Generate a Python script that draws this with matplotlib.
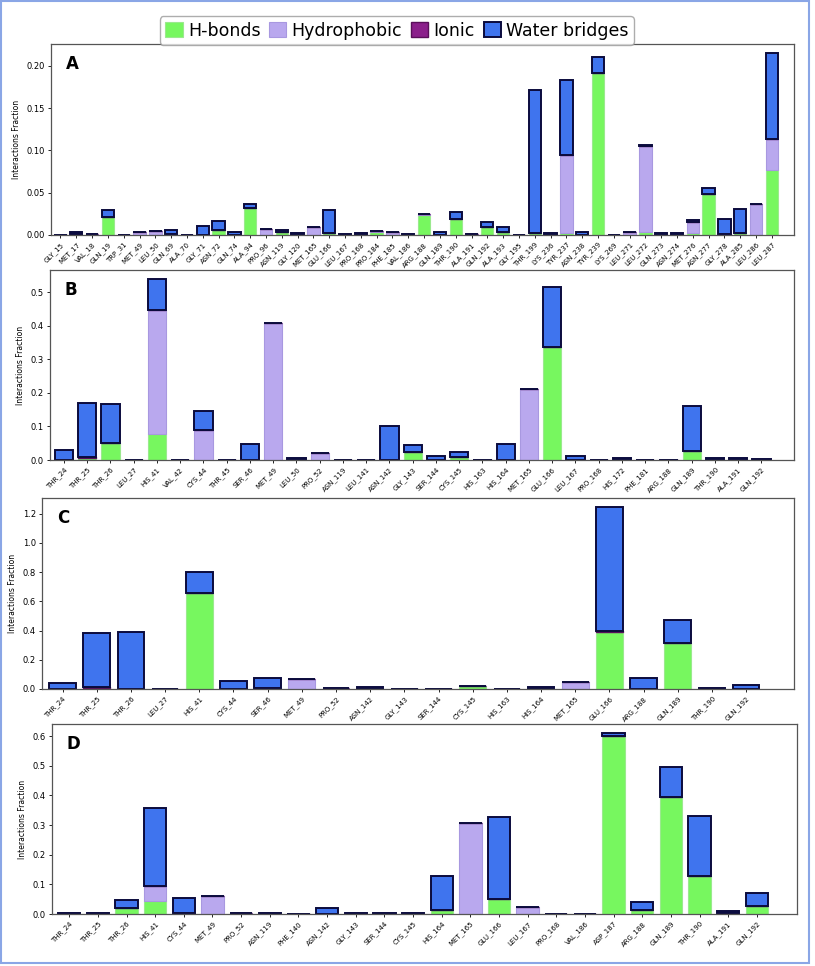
import numpy as np
import matplotlib
matplotlib.use("Agg")
import matplotlib.pyplot as plt
from matplotlib.patches import Patch, Rectangle

# ---- panel A ----
a_labels = ["GLY_15", "MET_17", "VAL_18", "GLN_19", "TRP_31", "MET_49", "LEU_50", "GLN_69",
            "ALA_70", "GLY_71", "ASN_72", "GLN_74", "ALA_94", "PRO_96", "ASN_119", "GLY_120",
            "MET_165", "GLU_166", "LEU_167", "PRO_168", "PRO_184", "PHE_185", "VAL_186",
            "ARG_188", "GLN_189", "THR_190", "ALA_191", "GLN_192", "ALA_193", "GLY_195",
            "THR_199", "LYS_236", "TYR_237", "ASN_238", "TYR_239", "LYS_269", "LEU_271",
            "LEU_272", "GLN_273", "ASN_274", "MET_276", "ASN_277", "GLY_278", "ALA_285",
            "LEU_286", "LEU_287"]
a_hbond = [0, 0.001, 0, 0.021, 0, 0, 0, 0.001, 0, 0, 0.006, 0, 0.032, 0, 0.003, 0,
           0, 0.002, 0, 0, 0.004, 0, 0, 0.024, 0, 0.019, 0, 0.010, 0.004, 0,
           0.002, 0, 0.002, 0, 0.192, 0, 0, 0.003, 0, 0, 0.002, 0.048, 0.001, 0.002,
           0, 0.077]
a_hydro = [0, 0, 0.001, 0, 0.0005, 0.003, 0.005, 0, 0, 0, 0, 0, 0, 0.007, 0, 0,
           0.009, 0, 0, 0, 0.001, 0.003, 0, 0.001, 0, 0, 0.001, 0, 0, 0,
           0, 0, 0.092, 0, 0, 0, 0.003, 0.102, 0, 0, 0.013, 0, 0, 0,
           0.0365, 0.037]
a_ionic = [0] * 46
a_water = [0.0005, 0.003, 0, 0.009, 0, 0, 0, 0.005, 0.0005, 0.011, 0.011, 0.003, 0.005, 0, 0.003, 0.002,
           0, 0.027, 0.001, 0.002, 0, 0, 0.001, 0, 0.003, 0.008, 0, 0.005, 0.005, 0.0005,
           0.169, 0.002, 0.089, 0.003, 0.018, 0.0005, 0, 0.001, 0.002, 0.002, 0.003, 0.007, 0.018, 0.029,
           0, 0.101]

# ---- panel B ----
b_labels = ["THR_24", "THR_25", "THR_26", "LEU_27", "HIS_41", "VAL_42", "CYS_44", "THR_45",
            "SER_46", "MET_49", "LEU_50", "PRO_52", "ASN_119", "LEU_141", "ASN_142", "GLY_143",
            "SER_144", "CYS_145", "HIS_163", "HIS_164", "MET_165", "GLU_166", "LEU_167",
            "PRO_168", "HIS_172", "PHE_181", "ARG_188", "GLN_189", "THR_190", "ALA_191", "GLN_192"]
b_hbond = [0, 0.007, 0.051, 0, 0.078, 0, 0, 0, 0, 0, 0, 0, 0, 0, 0, 0.024,
           0, 0.008, 0, 0, 0, 0.336, 0, 0, 0, 0, 0, 0.026, 0, 0, 0]
b_hydro = [0, 0, 0, 0, 0.369, 0.001, 0.090, 0, 0, 0.408, 0, 0.020, 0, 0, 0, 0,
           0, 0, 0, 0, 0.213, 0, 0, 0, 0, 0, 0, 0, 0, 0, 0]
b_ionic = [0, 0.002, 0, 0, 0, 0, 0, 0, 0, 0, 0, 0, 0, 0, 0, 0,
           0, 0, 0, 0, 0, 0, 0, 0, 0, 0, 0, 0, 0, 0, 0]
b_water = [0.030, 0.160, 0.116, 0, 0.093, 0, 0.057, 0, 0.048, 0, 0.005, 0, 0.001, 0.001, 0.101, 0.022,
           0.013, 0.015, 0, 0.048, 0, 0.180, 0.013, 0, 0.006, 0, 0.001, 0.136, 0.007, 0.007, 0.003]

# ---- panel C ----
c_labels = ["THR_24", "THR_25", "THR_26", "LEU_27", "HIS_41", "CYS_44", "SER_46", "MET_49",
            "PRO_52", "ASN_142", "GLY_143", "SER_144", "CYS_145", "HIS_163", "HIS_164",
            "MET_165", "GLU_166", "ARG_188", "GLN_189", "THR_190", "GLN_192"]
c_hbond = [0, 0.010, 0, 0, 0.655, 0.003, 0.005, 0, 0, 0, 0, 0, 0.018, 0, 0,
           0, 0.390, 0, 0.313, 0, 0]
c_hydro = [0, 0, 0, 0, 0, 0, 0, 0.071, 0.010, 0, 0, 0, 0.005, 0, 0,
           0.048, 0, 0, 0, 0, 0]
c_ionic = [0, 0.004, 0, 0, 0, 0, 0, 0, 0, 0, 0, 0, 0, 0, 0,
           0, 0.005, 0, 0, 0, 0]
c_water = [0.040, 0.370, 0.389, 0, 0.143, 0.052, 0.073, 0, 0, 0.012, 0.003, 0.001, 0, 0.001, 0.012,
           0, 0.850, 0.074, 0.161, 0.004, 0.030]

# ---- panel D ----
d_labels = ["THR_24", "THR_25", "THR_26", "HIS_41", "CYS_44", "MET_49", "PRO_52", "ASN_119",
            "PHE_140", "ASN_142", "GLY_143", "SER_144", "CYS_145", "HIS_164", "MET_165",
            "GLU_166", "LEU_167", "PRO_168", "VAL_186", "ASP_187", "ARG_188", "GLN_189",
            "THR_190", "ALA_191", "GLN_192"]
d_hbond = [0, 0, 0.021, 0.045, 0.002, 0, 0, 0, 0, 0, 0, 0, 0, 0.015, 0,
           0.051, 0, 0, 0, 0.600, 0.015, 0.393, 0.127, 0.004, 0.026]
d_hydro = [0, 0, 0, 0.051, 0, 0.060, 0.004, 0, 0, 0, 0, 0, 0, 0, 0.306,
           0, 0.025, 0, 0, 0, 0, 0, 0, 0, 0]
d_ionic = [0] * 25
d_water = [0.003, 0.003, 0.025, 0.261, 0.052, 0, 0, 0.003, 0, 0.020, 0.002, 0.003, 0.002, 0.112, 0,
           0.275, 0, 0, 0.001, 0.010, 0.027, 0.101, 0.202, 0.007, 0.044]

panels = [
    ("A", a_labels, a_hbond, a_hydro, a_ionic, a_water, (51, 44, 794, 235)),
    ("B", b_labels, b_hbond, b_hydro, b_ionic, b_water, (50, 270, 794, 460)),
    ("C", c_labels, c_hbond, c_hydro, c_ionic, c_water, (42, 498, 794, 689)),
    ("D", d_labels, d_hbond, d_hydro, d_ionic, d_water, (52, 724, 797, 914)),
]

# face / edge colours per interaction type
kinds = ["H-bonds", "Hydrophobic", "Ionic", "Water bridges"]
faces = ["#77f75f", "#b9a8ee", "#8b1f8b", "#3f74ee"]
edges = ["#9be98e", "#a898e0", "#5a0f5a", "#0b0b3d"]
lws = [0.8, 0.8, 1.0, 1.4]

W, H = 815, 966
fig = plt.figure(figsize=(W / 100, H / 100), dpi=100)

for letter, labels, hb, hy, io, wa, (l, t, r, b) in panels:
    ax = fig.add_axes([l / W, 1 - b / H, (r - l) / W, (b - t) / H])
    x = np.arange(len(labels))
    bottom = np.zeros(len(labels))
    for vals, fc, ec, lw in zip([hb, hy, io, wa], faces, edges, lws):
        vals = np.array(vals, dtype=float)
        ax.bar(x, vals, 0.78, bottom=bottom, color=fc, edgecolor=ec, linewidth=lw)
        bottom = bottom + vals
    ax.set_xlim(-0.6, len(labels) + 0.4)
    ax.set_xticks(x)
    ax.set_xticklabels(labels, rotation=45, ha="right", rotation_mode="anchor", fontsize=5)
    ax.tick_params(axis="y", labelsize=6, length=2.5, width=0.6, pad=2)
    ax.tick_params(axis="x", length=2.5, width=0.6, pad=2)
    ax.set_ylabel("Interactions Fraction", fontsize=5.5, labelpad=4)
    if letter == "A":
        ax.yaxis.set_major_formatter(matplotlib.ticker.FormatStrFormatter("%.2f"))
    for sp in ax.spines.values():
        sp.set_color("#555555")
        sp.set_linewidth(0.9)
    ax.text(0.02, 0.94, letter, transform=ax.transAxes, fontsize=12,
            fontweight="bold", va="top", ha="left")

handles = [Patch(facecolor=fc, edgecolor=ec, linewidth=lw) for fc, ec, lw in zip(faces, edges, lws)]
fig.legend(handles, kinds, loc="upper center", bbox_to_anchor=(0.487, 0.992), ncol=4,
           fontsize=12.5, handlelength=1.0, handleheight=1.0, handletextpad=0.3,
           columnspacing=0.5, borderpad=0.3, frameon=True, edgecolor="#999999",
           fancybox=True)

# light blue outer frame
fig.patches.append(Rectangle((1 / W, 3 / H), 808 / W, 962 / H, transform=fig.transFigure,
                             fill=False, edgecolor="#8aa6e6", linewidth=1.5))

fig.savefig("out.png", dpi=100)
